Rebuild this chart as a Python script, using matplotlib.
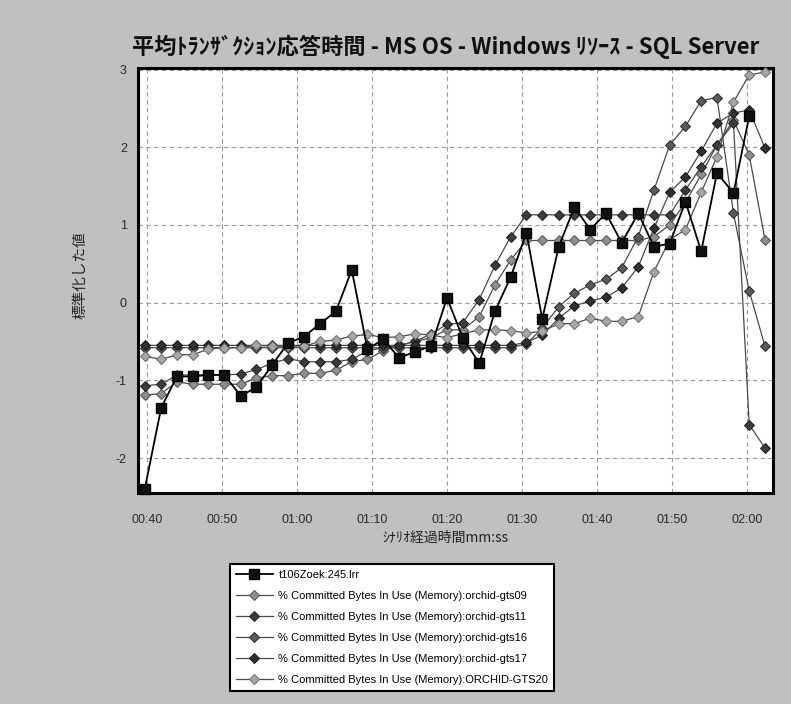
import numpy as np
import matplotlib
matplotlib.use("Agg")
import matplotlib.pyplot as plt
from matplotlib.ticker import FuncFormatter, FixedLocator

plt.rcParams['font.family'] = ['Liberation Sans', 'Noto Sans CJK JP', 'DejaVu Sans']

# elapsed time of each sample, seconds
times = [39.7, 41.9, 44.0, 46.1, 48.2, 50.3, 52.5, 54.6, 56.7, 58.8,
         60.9, 63.1, 65.2, 67.3, 69.4, 71.5, 73.6, 75.8, 77.9, 80.0,
         82.1, 84.3, 86.4, 88.5, 90.6, 92.7, 94.9, 97.0, 99.1, 101.2,
         103.3, 105.5, 107.6, 109.7, 111.8, 113.9, 116.0, 118.2, 120.3, 122.4]

t106 = [-2.40, -1.35, -0.95, -0.95, -0.93, -0.93, -1.20, -1.09, -0.80, -0.52,
        -0.44, -0.27, -0.11, 0.42, -0.60, -0.47, -0.71, -0.63, -0.56, 0.06,
        -0.45, -0.78, -0.11, 0.33, 0.90, -0.21, 0.72, 1.23, 0.94, 1.15,
        0.77, 1.15, 0.72, 0.76, 1.30, 0.66, 1.67, 1.41, 2.40, np.nan]

gts09 = [-1.19, -1.17, -1.02, -1.05, -1.05, -1.05, -1.05, -0.97, -0.94, -0.94,
         -0.91, -0.91, -0.87, -0.76, -0.73, -0.62, -0.55, -0.50, -0.45, -0.35,
         -0.35, -0.18, 0.23, 0.55, 0.80, 0.80, 0.80, 0.80, 0.80, 0.80,
         0.80, 0.80, 0.85, 1.00, 1.29, 1.65, 2.03, 2.35, 1.90, 0.81]

gts11 = [-1.07, -1.05, -0.93, -0.93, -0.93, -0.93, -0.92, -0.86, -0.78, -0.72,
         -0.76, -0.76, -0.76, -0.73, -0.62, -0.58, -0.55, -0.50, -0.40, -0.28,
         -0.26, 0.04, 0.48, 0.85, 1.13, 1.13, 1.13, 1.13, 1.13, 1.13,
         1.13, 1.13, 1.13, 1.13, 1.45, 1.75, 2.03, 2.31, -1.57, -1.87]

gts16 = [-0.58, -0.58, -0.58, -0.58, -0.58, -0.58, -0.58, -0.58, -0.58, -0.58,
         -0.58, -0.58, -0.58, -0.58, -0.58, -0.58, -0.58, -0.58, -0.58, -0.58,
         -0.58, -0.58, -0.58, -0.58, -0.53, -0.33, -0.05, 0.12, 0.23, 0.30,
         0.45, 0.85, 1.45, 2.03, 2.27, 2.60, 2.64, 1.15, 0.15, -0.56]

gts17 = [-0.55, -0.55, -0.55, -0.55, -0.55, -0.55, -0.55, -0.55, -0.55, -0.55,
         -0.55, -0.55, -0.55, -0.55, -0.55, -0.55, -0.55, -0.55, -0.55, -0.55,
         -0.55, -0.55, -0.55, -0.55, -0.51, -0.42, -0.20, -0.04, 0.02, 0.07,
         0.19, 0.46, 0.96, 1.42, 1.62, 1.95, 2.31, 2.44, 2.48, 1.99]

gts20 = [-0.69, -0.73, -0.67, -0.67, -0.60, -0.58, -0.58, -0.55, -0.56, -0.56,
         -0.56, -0.50, -0.48, -0.43, -0.41, -0.45, -0.44, -0.40, -0.42, -0.45,
         -0.40, -0.35, -0.35, -0.36, -0.39, -0.37, -0.27, -0.27, -0.20, -0.24,
         -0.24, -0.18, 0.40, 0.81, 0.94, 1.42, 1.88, 2.58, 2.93, 2.97]

labels = ["t106Zoek:245.lrr",
          "% Committed Bytes In Use (Memory):orchid-gts09",
          "% Committed Bytes In Use (Memory):orchid-gts11",
          "% Committed Bytes In Use (Memory):orchid-gts16",
          "% Committed Bytes In Use (Memory):orchid-gts17",
          "% Committed Bytes In Use (Memory):ORCHID-GTS20"]

x_ticks = [40, 50, 60, 70, 80, 90, 100, 110, 120]
y_ticks = [-2, -1, 0, 1, 2, 3]

title = "平均ﾄﾗﾝｻﾞｸｼｮﾝ応答時間 - MS OS - Windows ﾘｿｰｽ - SQL Server"
xlabel = "ｼﾅﾘｵ経過時間mm:ss"
ylabel = "標準化した値"

W, H = 791, 704
fig = plt.figure(figsize=(W / 100, H / 100), dpi=100)
fig.patch.set_facecolor('#c0c0c0')

L, R, T, B = 138, 773, 68, 493
ax = fig.add_axes([L / W, 1 - B / H, (R - L) / W, (B - T) / H])
ax.set_facecolor('white')

series_styles = [
    (gts09, '#8e8e8e', '#505050'),
    (gts11, '#3c3c3c', '#1e1e1e'),
    (gts16, '#5a5a5a', '#2a2a2a'),
    (gts17, '#303030', '#151515'),
    (gts20, '#a6a6a6', '#6a6a6a'),
]
handles = []
h0, = ax.plot(times, t106, color='black', lw=1.3, marker='s', markersize=7.5,
              markerfacecolor='#111111', markeredgecolor='black', zorder=5,
              clip_on=False)
for vals, fc, ec in series_styles:
    h, = ax.plot(times, vals, color='#4a4a4a', lw=0.9, marker='D', markersize=5.2,
                 markerfacecolor=fc, markeredgecolor=ec, markeredgewidth=0.7,
                 zorder=4, clip_on=False)
    handles.append(h)

ax.set_xlim(38.8, 123.47)
ax.set_ylim(-2.45, 3.02)
ax.xaxis.set_major_locator(FixedLocator(x_ticks))
ax.yaxis.set_major_locator(FixedLocator(y_ticks))
ax.xaxis.set_major_formatter(FuncFormatter(lambda v, p: "%02d:%02d" % (int(v) // 60, int(v) % 60)))
ax.yaxis.set_major_formatter(FuncFormatter(lambda v, p: "%d" % v))
ax.grid(True, color='#9a9a9a', linestyle=(0, (4, 3)), linewidth=0.8)
ax.set_axisbelow(True)
ax.tick_params(axis='both', length=0, labelsize=9, colors='#2a2a2a')
ax.tick_params(axis='x', pad=15)
ax.tick_params(axis='y', pad=8)
for s in ax.spines.values():
    s.set_color('black')
    s.set_linewidth(2.2)

fig.text(446 / W, 1 - 47 / H, title, ha='center', va='center', fontsize=16,
         fontweight='bold', family=['Noto Sans CJK JP', 'DejaVu Sans'], color='#111111')
fig.text(445 / W, 1 - 538 / H, xlabel, ha='center', va='center', fontsize=10,
         family=['Noto Sans CJK JP', 'DejaVu Sans'], color='#222222')
fig.text(80 / W, 1 - 275 / H, ylabel, ha='center', va='center', rotation=90,
         fontsize=10.5, family=['Noto Sans CJK JP', 'DejaVu Sans'], color='#222222')

leg = fig.legend([h0] + handles, labels, loc='upper left',
                 bbox_to_anchor=(230 / W, 1 - 564 / H), fontsize=8.0,
                 frameon=True, fancybox=False, framealpha=1.0, borderpad=0.5,
                 labelspacing=1.0, handlelength=3.4, handletextpad=0.45,
                 borderaxespad=0.0)
leg.get_frame().set_edgecolor('black')
leg.get_frame().set_linewidth(1.5)
leg.get_frame().set_facecolor('white')

fig.savefig('out.png', dpi=100, facecolor=fig.get_facecolor())
